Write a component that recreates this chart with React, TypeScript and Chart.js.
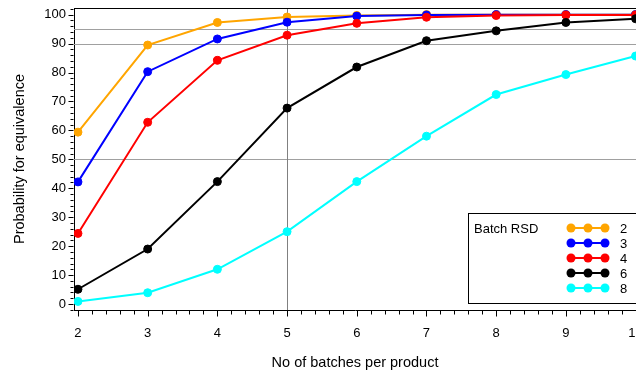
import React, { useEffect, useRef } from 'react';
import { Chart, registerables } from 'chart.js';

Chart.register(...registerables);

const batches = [2, 3, 4, 5, 6, 7, 8, 9, 10];
const rsdLabels = ['2', '3', '4', '6', '8'];
const rsd2 = [59.4, 89.5, 97.3, 99.2, 99.7, 100, 100, 100, 100];
const rsd3 = [42.2, 80.3, 91.6, 97.4, 99.5, 99.9, 100, 100, 100];
const rsd4 = [24.4, 62.8, 84.2, 92.9, 97.0, 99.1, 99.7, 99.9, 99.9];
const rsd6 = [5.1, 19.0, 42.3, 67.7, 81.9, 91.0, 94.4, 97.3, 98.6];
const rsd8 = [0.9, 3.9, 12.0, 25.0, 42.3, 58.0, 72.4, 79.3, 85.7];
const seriesValues = [rsd2, rsd3, rsd4, rsd6, rsd8];
const seriesColors = ['#FFA500', '#0000FF', '#FF0000', '#000000', '#00FFFF'];

const xTickValues = [2, 3, 4, 5, 6, 7, 8, 9, 10];
const yTickValues = [0, 10, 20, 30, 40, 50, 60, 70, 80, 90, 100];
const refLinesY = [50, 90, 95];
const refLinesX = [5];

const legendTitle = 'Batch RSD';
const xTitle = 'No of batches per product';
const yTitle = 'Probability for equivalence';

const FONT = "'Liberation Sans', Arial, sans-serif";

const framePlugin = {
  id: 'framePlugin',
  beforeDatasetsDraw(chart: any) {
    const { ctx, chartArea, scales } = chart;
    const xs = scales.x;
    const ys = scales.y;
    ctx.save();
    ctx.lineWidth = 1;
    ctx.strokeStyle = '#a0a0a0';
    refLinesY.forEach((v) => {
      const y = Math.round(ys.getPixelForValue(v)) + 0.5;
      ctx.beginPath();
      ctx.moveTo(chartArea.left, y);
      ctx.lineTo(chartArea.right, y);
      ctx.stroke();
    });
    ctx.strokeStyle = '#808080';
    refLinesX.forEach((v) => {
      const x = Math.round(xs.getPixelForValue(v)) + 0.5;
      ctx.beginPath();
      ctx.moveTo(x, chartArea.top);
      ctx.lineTo(x, chartArea.bottom);
      ctx.stroke();
    });
    ctx.restore();
  },
  afterDraw(chart: any) {
    const { ctx, chartArea, scales } = chart;
    const xs = scales.x;
    const ys = scales.y;
    ctx.save();
    ctx.lineWidth = 1;
    ctx.strokeStyle = '#000';
    // top frame line
    const ty = Math.round(chartArea.top) + 0.5;
    ctx.beginPath();
    ctx.moveTo(chartArea.left, ty);
    ctx.lineTo(chartArea.right, ty);
    ctx.stroke();
    // y ticks (major every 10, minor every 2)
    const axX = Math.round(chartArea.left) - 0.5;
    for (let v = -2; v <= 102; v += 2) {
      const y = Math.round(ys.getPixelForValue(v)) + 0.5;
      if (y < chartArea.top - 1 || y > chartArea.bottom + 1) continue;
      const len = v % 10 === 0 ? 5 : 3;
      ctx.beginPath();
      ctx.moveTo(axX, y);
      ctx.lineTo(axX - len, y);
      ctx.stroke();
    }
    // x ticks (major every 1, minor every 0.2)
    const axY = Math.round(chartArea.bottom) + 0.5;
    for (let i = 0; i <= 45; i++) {
      const v = 2 + i * 0.2;
      const x = Math.round(xs.getPixelForValue(v)) + 0.5;
      if (x < chartArea.left - 1 || x > chartArea.right + 1) continue;
      const len = i % 5 === 0 ? 6 : 4;
      ctx.beginPath();
      ctx.moveTo(x, axY);
      ctx.lineTo(x, axY + len);
      ctx.stroke();
    }
    // legend
    const bx = 468.5;
    const by = 213.5;
    const bw = 180;
    const bh = 90;
    ctx.fillStyle = '#fff';
    ctx.fillRect(bx, by, bw, bh);
    ctx.strokeStyle = '#000';
    ctx.strokeRect(bx, by, bw, bh);
    ctx.font = `13px ${FONT}`;
    ctx.fillStyle = '#000';
    ctx.textBaseline = 'middle';
    ctx.textAlign = 'left';
    ctx.fillText(legendTitle, 474, 229);
    chart.data.datasets.forEach((ds: any, i: number) => {
      const cy = 228 + i * 15;
      ctx.strokeStyle = ds.borderColor;
      ctx.fillStyle = ds.borderColor;
      ctx.lineWidth = 2;
      ctx.beginPath();
      ctx.moveTo(571, cy);
      ctx.lineTo(605, cy);
      ctx.stroke();
      [571, 588, 605].forEach((px) => {
        ctx.beginPath();
        ctx.arc(px, cy, 4.5, 0, Math.PI * 2);
        ctx.fill();
      });
      ctx.fillStyle = '#000';
      ctx.fillText(ds.label, 620, cy + 1);
    });
    ctx.restore();
  },
};

export default function App() {
  const canvasRef = useRef<HTMLCanvasElement | null>(null);

  useEffect(() => {
    document.body.style.margin = '0';
    const canvas = canvasRef.current;
    if (!canvas) return;
    const chart = new Chart(canvas, {
      type: 'line',
      data: {
        datasets: seriesValues.map((vals, i) => ({
          label: rsdLabels[i],
          data: vals.map((v, j) => ({ x: batches[j], y: v })),
          borderColor: seriesColors[i],
          backgroundColor: seriesColors[i],
          pointBackgroundColor: seriesColors[i],
          pointBorderColor: seriesColors[i],
          borderWidth: 2,
          pointRadius: 4,
          pointBorderWidth: 1,
          tension: 0,
          fill: false,
          order: seriesValues.length - i,
        })),
      },
      options: {
        responsive: false,
        animation: false,
        devicePixelRatio: 1,
        layout: { autoPadding: false, padding: { top: 8, left: 0, right: 0, bottom: 0 } },
        plugins: {
          legend: { display: false },
          tooltip: { enabled: false },
        },
        scales: {
          x: {
            type: 'linear',
            min: 1.943,
            max: 10.006,
            grid: { display: false, drawTicks: false },
            border: { display: true, color: '#000', width: 1 },
            afterBuildTicks: (scale: any) => {
              scale.ticks = xTickValues.map((v) => ({ value: v }));
            },
            afterFit: (scale: any) => {
              scale.height = 60;
              scale.paddingLeft = 0;
              scale.paddingRight = 0;
            },
            ticks: {
              color: '#000',
              font: { family: FONT, size: 13 },
              padding: 16,
              maxRotation: 0,
              autoSkip: false,
              callback: (v: any) => String(v),
            },
            title: {
              display: true,
              text: xTitle,
              color: '#000',
              font: { family: FONT, size: 14.5, lineHeight: 1 },
              padding: { top: 0, bottom: 0 },
            },
          },
          y: {
            type: 'linear',
            min: -2.07,
            max: 102.3,
            grid: { display: false, drawTicks: false },
            border: { display: true, color: '#000', width: 1 },
            afterBuildTicks: (scale: any) => {
              scale.ticks = yTickValues.map((v) => ({ value: v }));
            },
            afterFit: (scale: any) => {
              scale.width = 74;
              scale.paddingTop = 0;
              scale.paddingBottom = 0;
            },
            ticks: {
              color: '#000',
              font: { family: FONT, size: 13 },
              padding: 8,
              autoSkip: false,
              callback: (v: any) => String(v),
            },
            title: {
              display: true,
              text: yTitle,
              color: '#000',
              font: { family: FONT, size: 14.5 },
              padding: { top: 11, bottom: 0 },
            },
          },
        },
      },
      plugins: [framePlugin],
    });
    return () => chart.destroy();
  }, []);

  return (
    <div style={{ width: 636, height: 370 }}>
      <canvas ref={canvasRef} width={636} height={370} style={{ display: 'block' }} />
    </div>
  );
}
